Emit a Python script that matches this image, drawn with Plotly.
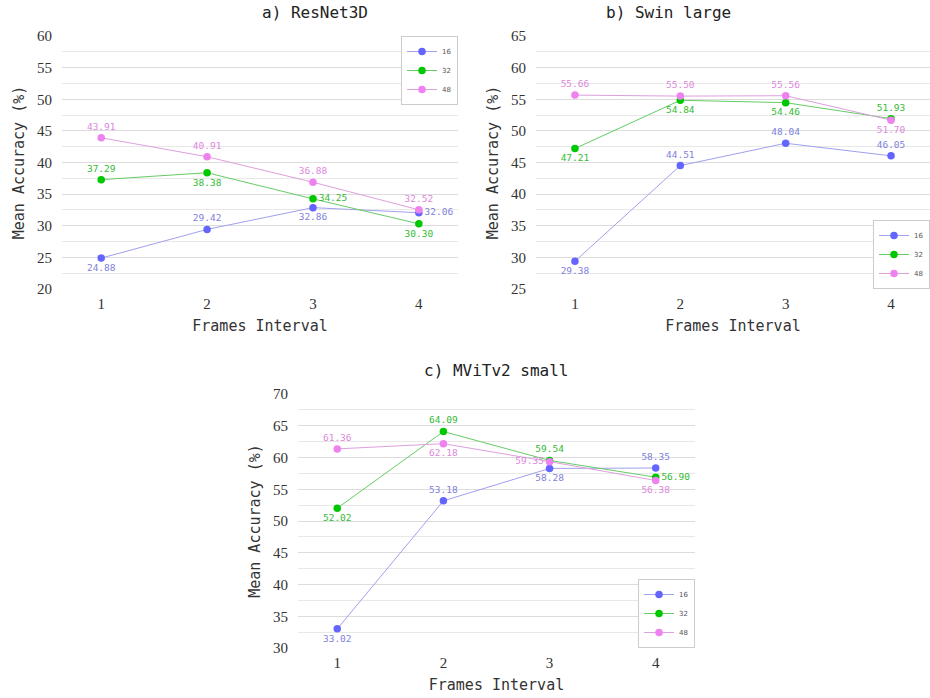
import plotly.graph_objects as go

frames = [1, 2, 3, 4]
series_names = ["16", "32", "48"]

resnet_16 = [24.88, 29.42, 32.86, 32.06]
resnet_32 = [37.29, 38.38, 34.25, 30.30]
resnet_48 = [43.91, 40.91, 36.88, 32.52]

swin_16 = [29.38, 44.51, 48.04, 46.05]
swin_32 = [47.21, 54.84, 54.46, 51.93]
swin_48 = [55.66, 55.50, 55.56, 51.70]

mvit_16 = [33.02, 53.18, 58.28, 58.35]
mvit_32 = [52.02, 64.09, 59.54, 56.90]
mvit_48 = [61.36, 62.18, 59.35, 56.38]

titles = ["a) ResNet3D", "b) Swin large", "c) MViTv2 small"]

marker_colors = ["#6464ff", "#00c800", "#ee82ee"]
line_colors = ["#a0a0ee", "#66cc66", "#dda0dd"]
label_colors = ["#7f7fdd", "#33bb33", "#dd88dd"]

pos_a = [
    ["bottom center", "top center", "bottom center", "middle right"],
    ["top center", "bottom center", "middle right", "bottom center"],
    ["top center", "top center", "top center", "top center"],
]
pos_b = [
    ["bottom center", "top center", "top center", "top center"],
    ["bottom center", "bottom center", "bottom center", "top center"],
    ["top center", "top center", "top center", "bottom center"],
]
pos_c = [
    ["bottom center", "top center", "bottom center", "top center"],
    ["bottom center", "top center", "top center", "middle right"],
    ["top center", "bottom center", "middle left", "bottom center"],
]

panels = [
    dict(data=[resnet_16, resnet_32, resnet_48], pos=pos_a, xa="x", ya="y",
         legend="legend", yr=[20, 60]),
    dict(data=[swin_16, swin_32, swin_48], pos=pos_b, xa="x2", ya="y2",
         legend="legend2", yr=[25, 65]),
    dict(data=[mvit_16, mvit_32, mvit_48], pos=pos_c, xa="x3", ya="y3",
         legend="legend3", yr=[30, 70]),
]

fig = go.Figure()
for p in panels:
    for i, vals in enumerate(p["data"]):
        fig.add_trace(go.Scatter(
            x=frames, y=vals, name=series_names[i], mode="lines+markers+text",
            xaxis=p["xa"], yaxis=p["ya"], legend=p["legend"],
            line=dict(color=line_colors[i], width=1),
            marker=dict(color=marker_colors[i], size=7.5),
            text=[f"{v:.2f}" for v in vals],
            textposition=p["pos"][i],
            textfont=dict(family="DejaVu Sans Mono", size=9.5, color=label_colors[i]),
            cliponaxis=False,
        ))

mono = "DejaVu Sans Mono"
serif = "'Liberation Serif', 'Times New Roman', Tinos, 'DejaVu Serif', serif"

def xaxis(domain, anchor):
    return dict(domain=domain, anchor=anchor, range=[0.63, 4.37], tickvals=frames,
                showgrid=False, zeroline=False, showline=False, automargin=False,
                tickfont=dict(family=serif, size=15, color="#333"),
                title=dict(text="Frames Interval", font=dict(family=mono, size=15, color="#333"),
                           standoff=9),
                ticks="", ticklabelstandoff=4, fixedrange=True)

def yaxis(domain, anchor, rng):
    return dict(domain=domain, anchor=anchor, range=rng, dtick=5, tick0=0,
                showgrid=True, gridcolor="#dcdcdc", gridwidth=1, zeroline=False,
                automargin=False,
                minor=dict(dtick=2.5, showgrid=True, gridcolor="#e8e8e8", gridwidth=1),
                tickfont=dict(family=serif, size=15, color="#333"),
                title=dict(text="Mean Accuracy (%)", font=dict(family=mono, size=15, color="#333"),
                           standoff=8),
                ticks="", ticklabelstandoff=9, fixedrange=True)

leg_common = dict(font=dict(family="DejaVu Sans", size=7, color="#555"),
                  bordercolor="#cccccc", borderwidth=1, bgcolor="white",
                  xref="paper", yref="paper", itemwidth=30, tracegroupgap=0)

fig.update_layout(
    width=930, height=698,
    margin=dict(l=0, r=0, t=0, b=0, autoexpand=False),
    paper_bgcolor="white", plot_bgcolor="white",
    xaxis=xaxis([0.0667, 0.4925], "y"),
    yaxis=yaxis([0.586, 0.9484], "x", panels[0]["yr"]),
    xaxis2=xaxis([0.5763, 1.0], "y2"),
    yaxis2=yaxis([0.586, 0.9484], "x2", panels[1]["yr"]),
    xaxis3=xaxis([0.3204, 0.7473], "y3"),
    yaxis3=yaxis([0.0716, 0.4355], "x3", panels[2]["yr"]),
    legend=dict(x=0.4925, y=0.9484, xanchor="right", yanchor="top", **leg_common),
    legend2=dict(x=1.0, y=0.586, xanchor="right", yanchor="bottom", **leg_common),
    legend3=dict(x=0.7473, y=0.0716, xanchor="right", yanchor="bottom", **leg_common),
    annotations=[
        dict(text=titles[0], x=(0.0667 + 0.4925) / 2, y=1 - 13 / 698, xref="paper", yref="paper",
             showarrow=False, font=dict(family=mono, size=16, color="#222"), yanchor="middle"),
        dict(text=titles[1], x=(0.5763 + 1.0) / 2, y=1 - 13 / 698, xref="paper", yref="paper",
             showarrow=False, font=dict(family=mono, size=16, color="#222"), yanchor="middle"),
        dict(text=titles[2], x=(0.3204 + 0.7473) / 2, y=1 - 370 / 698, xref="paper", yref="paper",
             showarrow=False, font=dict(family=mono, size=16, color="#222"), yanchor="middle"),
    ],
    showlegend=True,
)

fig.write_html(
    "out.html",
    config={"displayModeBar": False},
    post_script="document.body.style.margin='0px';document.body.style.padding='0px';"
                "document.body.style.overflow='hidden';",
)
